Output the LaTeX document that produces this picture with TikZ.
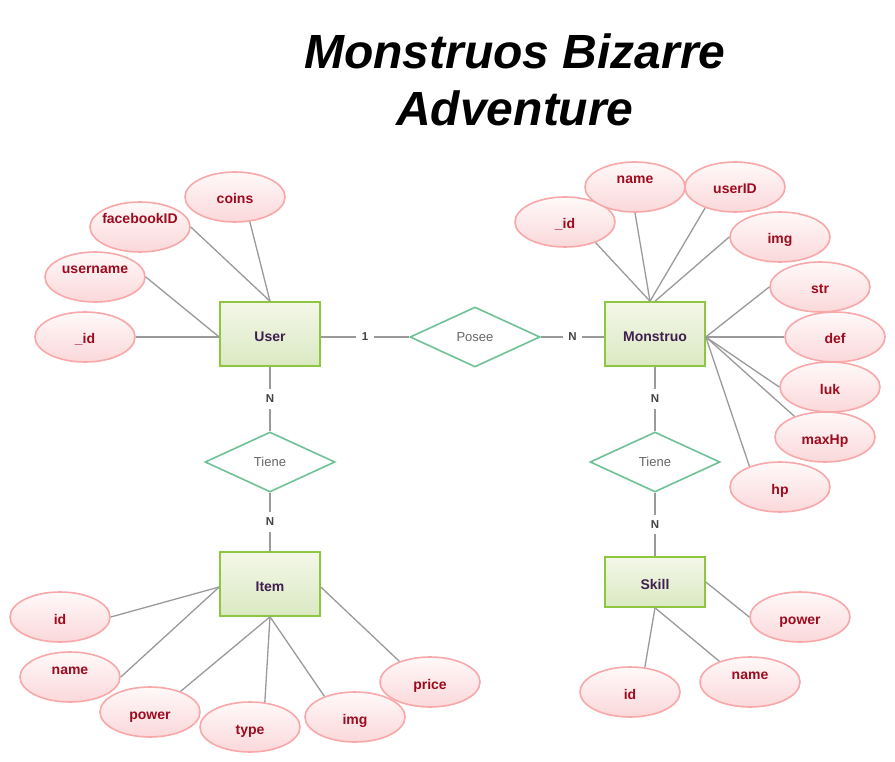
\documentclass[tikz,border=0pt]{standalone}
\usepackage{fontspec}
\setmainfont{Liberation Sans}
\usetikzlibrary{shapes.geometric,calc}
\definecolor{linegrey}{HTML}{9A9A9A}
\definecolor{entdraw}{HTML}{8DC63F}
\definecolor{enttop}{HTML}{F4F7E8}
\definecolor{entbot}{HTML}{DAE9C2}
\definecolor{enttext}{HTML}{3F1F4F}
\definecolor{reldraw}{HTML}{6FC197}
\definecolor{reltext}{HTML}{666666}
\definecolor{attrdraw}{HTML}{F9A8AA}
\definecolor{attrtop}{HTML}{FFF9F9}
\definecolor{attrbot}{HTML}{FBD8DA}
\definecolor{attrtext}{HTML}{9E0A1E}
\definecolor{cardtext}{HTML}{444444}
\tikzset{
  entity/.style={rectangle, draw=entdraw, line width=1.6pt, top color=enttop, bottom color=entbot,
    minimum width=100pt, minimum height=64pt, inner sep=0pt, text=enttext,
    text height=15pt, text depth=0pt,
    font=\fontsize{14}{16}\selectfont\bfseries},
  relation/.style={diamond, draw=reldraw, line width=1.6pt, fill=white,
    minimum width=130pt, minimum height=60pt, inner sep=0pt, text=reltext,
    font=\fontsize{13}{15}\selectfont},
  attrfont/.style={text=attrtext, text height=17pt, text depth=3pt,
    font=\fontsize{14}{16}\selectfont\bfseries},
  attr/.style={ellipse, draw=attrdraw, line width=1.6pt, top color=attrtop, bottom color=attrbot,
    minimum width=100pt, minimum height=50pt, inner sep=0pt, attrfont},
  attrup/.style={attr, label={[attrfont, inner sep=0pt, yshift=10pt]center:#1}},
  conn/.style={draw=linegrey, line width=1.3pt},
  card/.style={fill=white, text=cardtext, inner xsep=5.5pt, inner ysep=6pt,
    font=\fontsize{11.5}{13}\selectfont\bfseries},
  titletext/.style={font=\fontsize{48}{56}\selectfont\bfseries\itshape, text=black, inner sep=0pt, anchor=base}
}
\begin{document}
\begin{tikzpicture}[x=1pt,y=-1pt]
\useasboundingbox (0,0) rectangle (895,762);
\fill[white] (0,0) rectangle (895,762);

% title
\node[titletext] (title1) at (515,69) {Monstruos Bizarre};
\node[titletext] (title2) at (515,126) {Adventure};

% entities
\node[entity] (user) at (270,334) {User};
\node[entity] (monstruo) at (655,334) {Monstruo};
\node[entity] (item) at (270,584) {Item};
\node[entity, minimum height=50pt] (skill) at (655,582) {Skill};

% relations
\node[relation] (posee) at (475,337) {Posee};
\node[relation] (tiene1) at (270,462) {Tiene};
\node[relation] (tiene2) at (655,462) {Tiene};

% User attributes
\node[attr] (ucoins) at (235,197) {coins};
\node[attrup=facebookID] (ufb) at (140,227) {};
\node[attrup=username] (uname) at (95,277) {};
\node[attr] (uid) at (85,337) {\_id};

% Monstruo attributes
\node[attr] (mid) at (565,222) {\_id};
\node[attrup=name] (mname) at (635,187) {};
\node[attr] (muser) at (735,187) {userID};
\node[attr] (mimg) at (780,237) {img};
\node[attr] (mstr) at (820,287) {str};
\node[attr] (mdef) at (835,337) {def};
\node[attr] (mluk) at (830,387) {luk};
\node[attr] (mmax) at (825,437) {maxHp};
\node[attr] (mhp) at (780,487) {hp};

% Item attributes
\node[attr] (iid) at (60,617) {id};
\node[attrup=name] (iname) at (70,677) {};
\node[attr] (ipower) at (150,712) {power};
\node[attr] (itype) at (250,727) {type};
\node[attr] (iimg) at (355,717) {img};
\node[attr] (iprice) at (430,682) {price};

% Skill attributes
\node[attr] (spower) at (800,617) {power};
\node[attr] (sid) at (630,692) {id};
\node[attrup=name] (sname) at (750,682) {};

% helper coordinates (connection points off the box centre lines)
\coordinate (uwest) at ($(user.west)+(0,3)$);
\coordinate (ueast) at ($(user.east)+(0,3)$);
\coordinate (mwest) at ($(monstruo.west)+(0,3)$);
\coordinate (meast) at ($(monstruo.east)+(0,3)$);
\coordinate (mtop) at ($(monstruo.north)+(-5,0)$);
\coordinate (iwest) at ($(item.west)+(0,3)$);
\coordinate (ieast) at ($(item.east)+(0,3)$);

% attribute connectors
\draw[conn] (ucoins.-59) -- (user.north);
\draw[conn] (ufb.east) -- (user.north);
\draw[conn] (uname.east) -- (uwest);
\draw[conn] (uid.east) -- (uwest);

\draw[conn] (mid.-34) -- (mtop);
\draw[conn] (mname.south) -- (mtop);
\draw[conn] (muser.-145) -- (mtop);
\draw[conn] (mimg.west) -- (monstruo.north);
\draw[conn] (mstr.west) -- (meast);
\draw[conn] (mdef.west) -- (meast);
\draw[conn] (mluk.west) -- (meast);
\draw[conn] (mmax.146) -- (meast);
\draw[conn] (mhp.146) -- (meast);

\draw[conn] (iid.east) -- (iwest);
\draw[conn] (iname.east) -- (iwest);
\draw[conn] (ipower.34) -- (item.south);
\draw[conn] (itype.59) -- (item.south);
\draw[conn] (iimg.146) -- (item.south);
\draw[conn] (iprice.146) -- (ieast);

\draw[conn] (spower.west) -- (skill.east);
\draw[conn] (sid.59) -- (skill.south);
\draw[conn] (sname.146) -- (skill.south);

% relationship connectors
\draw[conn] (ueast) -- node[card] (c1) {1} (posee.west);
\draw[conn] (posee.east) -- node[card] (c2) {N} (mwest);
\draw[conn] (user.south) -- node[card] (c3) {N} (tiene1.north);
\draw[conn] (tiene1.south) -- node[card] (c4) {N} (item.north);
\draw[conn] (monstruo.south) -- node[card] (c5) {N} (tiene2.north);
\draw[conn] (tiene2.south) -- node[card] (c6) {N} (skill.north);
\end{tikzpicture}
\end{document}
